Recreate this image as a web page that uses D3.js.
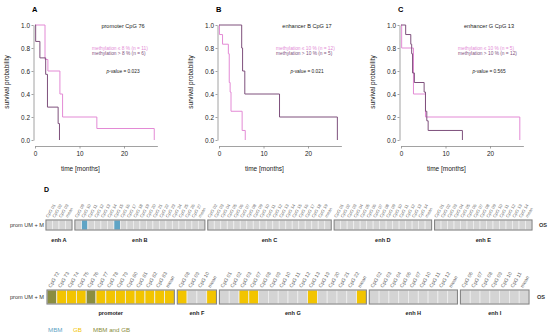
<!DOCTYPE html>
<html>
<head>
<meta charset="utf-8">
<script src="https://cdn.jsdelivr.net/npm/d3@7"></script>
<style>
  body { margin: 0; background: #fff; }
  text { font-family: "Liberation Sans", Arial, sans-serif; }
</style>
</head>
<body>
<svg id="chart"></svg>
<script>
const W = 550, H = 336;
const pink = "#e38ad5", purple = "#7e507c";

// Kaplan-Meier panels
const panelLetters = ["A", "B", "C"];
const panelTitles = ["promoter CpG 76", "enhancer B CpG 17", "enhancer G CpG 13"];
const legendLow = ["methylation \u2264 8 % (n = 11)", "methylation \u2264 10 % (n = 12)", "methylation \u2264 10 % (n = 5)"];
const legendHigh = ["methylation > 8 % (n = 6)", "methylation > 10 % (n = 5)", "methylation > 10 % (n = 12)"];
const pValues = ["0.023", "0.021", "0.565"];
const timeTicks = [0, 10, 20];
const survTicks = [0, 0.2, 0.4, 0.6, 0.8, 1.0];

// [time in months, survival after the step]
const kmLowA = [[0, 1], [2.25, 0.7], [2.9, 0.6], [5.6, 0.4], [6.2, 0.2], [13.9, 0.1], [26.8, 0]];
const kmHighA = [[0, 1], [0.15, 0.857], [1.1, 0.714], [2.4, 0.571], [2.8, 0.286], [5.2, 0.143], [5.5, 0]];
const kmLowB = [[0, 1], [0.1, 0.917], [0.8, 0.833], [2.1, 0.75], [2.3, 0.5], [2.5, 0.417], [2.7, 0.25], [5.2, 0.083], [5.9, 0]];
const kmHighB = [[0, 1], [5.1, 0.8], [5.3, 0.6], [5.8, 0.4], [13.6, 0.2], [26.6, 0]];
const kmLowC = [[0, 1], [0.15, 0.8], [2.8, 0.4], [5.5, 0.2], [26.7, 0]];
const kmHighC = [[0, 1], [1.05, 0.917], [2.2, 0.833], [2.4, 0.75], [2.6, 0.583], [3.0, 0.5], [5.2, 0.417], [5.5, 0.25], [5.8, 0.167], [6.1, 0.083], [13.8, 0]];
const kmLow = [kmLowA, kmLowB, kmLowC];
const kmHigh = [kmHighA, kmHighB, kmHighC];

// Heatmap D
const statusNames = ["MBM", "GB", "MBM and GB"];
const statusColors = ["#d4d4d4", "#5fa4c5", "#f2c400", "#8a8d40"];

const row1Groups = ["enh A", "enh B", "enh C", "enh D", "enh E"];
const row1Labels = [
  ["CpG 01", "CpG 02", "CpG 03", "mean"],
  ["CpG 09", "CpG 10", "CpG 11", "CpG 12", "CpG 13", "CpG 14", "CpG 15", "CpG 16", "CpG 17", "CpG 18", "CpG 19", "CpG 20", "CpG 21", "CpG 22", "CpG 23", "CpG 24", "CpG 25", "CpG 26", "CpG 27", "mean"],
  ["CpG 02", "CpG 03", "CpG 04", "CpG 05", "CpG 06", "CpG 07", "CpG 08", "CpG 09", "CpG 10", "CpG 11", "CpG 12", "CpG 13", "CpG 14", "CpG 15", "CpG 16", "CpG 17", "CpG 18", "CpG 19", "mean"],
  ["CpG 01", "CpG 02", "CpG 03", "CpG 04", "CpG 05", "CpG 06", "CpG 07", "CpG 08", "CpG 09", "CpG 10", "CpG 11", "CpG 12", "CpG 13", "CpG 14", "mean"],
  ["CpG 01", "CpG 02", "CpG 03", "CpG 04", "CpG 05", "CpG 06", "CpG 07", "CpG 08", "CpG 09", "CpG 10", "CpG 11", "CpG 12", "CpG 13", "CpG 14", "mean"]
];
// 0 = none, 1 = MBM, 2 = GB, 3 = MBM and GB
const row1Status = [
  [0, 0, 0, 0],
  [0, 1, 0, 0, 0, 0, 1, 0, 0, 0, 0, 0, 0, 0, 0, 0, 0, 0, 0, 0],
  [0, 0, 0, 0, 0, 0, 0, 0, 0, 0, 0, 0, 0, 0, 0, 0, 0, 0, 0],
  [0, 0, 0, 0, 0, 0, 0, 0, 0, 0, 0, 0, 0, 0, 0],
  [0, 0, 0, 0, 0, 0, 0, 0, 0, 0, 0, 0, 0, 0, 0]
];

const row2Groups = ["promoter", "enh F", "enh G", "enh H", "enh I"];
const row2Labels = [
  ["CpG 72", "CpG 73", "CpG 74", "CpG 75", "CpG 76", "CpG 77", "CpG 78", "CpG 79", "CpG 80", "CpG 81", "CpG 82", "CpG 83", "mean"],
  ["CpG 08", "CpG 09", "CpG 10", "mean"],
  ["CpG 01", "CpG 02", "CpG 03", "CpG 07", "CpG 08", "CpG 09", "CpG 10", "CpG 11", "CpG 12", "CpG 13", "CpG 19", "CpG 20", "CpG 21", "CpG 22", "mean"],
  ["CpG 02", "CpG 03", "CpG 04", "CpG 06", "CpG 07", "CpG 10", "CpG 11", "CpG 12", "mean"],
  ["CpG 06", "CpG 07", "CpG 08", "CpG 09", "CpG 10", "CpG 11", "mean"]
];
const row2Status = [
  [3, 2, 2, 2, 3, 2, 2, 2, 2, 2, 2, 2, 2],
  [2, 0, 0, 2],
  [0, 0, 2, 2, 0, 0, 0, 0, 0, 2, 0, 0, 0, 0, 2],
  [0, 0, 0, 0, 0, 0, 0, 0, 0],
  [0, 0, 0, 0, 0, 0, 0]
];

const svg = d3.select("#chart").attr("width", W).attr("height", H);
svg.append("rect").attr("width", W).attr("height", H).attr("fill", "#fff");

// ---- survival panels ----
const panelX0 = [35, 219, 401];
const monthPx = 4.45;

panelLetters.forEach((letter, i) => {
  const x0 = panelX0[i];
  const g = svg.append("g");
  const x = d3.scaleLinear().domain([0, 27.5]).range([x0, x0 + 27.5 * monthPx]);
  const y = d3.scaleLinear().domain([0, 1]).range([140, 25]);

  g.append("text").attr("x", x0 - 3).attr("y", 12)
    .attr("font-size", 7.5).attr("font-weight", "bold").text(letter);

  // axes
  const xAxis = g.append("g").attr("transform", "translate(0,146)")
    .call(d3.axisBottom(x).tickValues(timeTicks).tickSize(2.5).tickSizeOuter(0).tickPadding(3));
  const yAxis = g.append("g").attr("transform", `translate(${x0 - 1.5},0)`)
    .call(d3.axisLeft(y).tickValues(survTicks).tickFormat(d3.format(".1f")).tickSize(2).tickSizeOuter(0).tickPadding(1.5));
  [xAxis, yAxis].forEach(a => {
    a.selectAll("path,line").attr("stroke", "#8a8a8a").attr("stroke-width", 0.8);
    a.selectAll("text").attr("font-size", 6.4).attr("fill", "#222")
      .style("font-family", '"Liberation Sans", Arial, sans-serif');
  });

  g.append("text").attr("transform", `translate(${x0 - 26},82) rotate(-90)`)
    .attr("text-anchor", "middle").attr("font-size", 6.5).attr("fill", "#222")
    .text("survival probability");
  g.append("text").attr("x", x(10.2)).attr("y", 170.5)
    .attr("text-anchor", "middle").attr("font-size", 6.5).attr("fill", "#222")
    .text("time [months]");

  // curves
  const line = d3.line().x(d => x(d[0])).y(d => y(d[1])).curve(d3.curveStepAfter);
  g.append("path").datum(kmLow[i]).attr("d", line)
    .attr("fill", "none").attr("stroke", pink).attr("stroke-width", 1);
  g.append("path").datum(kmHigh[i]).attr("d", line)
    .attr("fill", "none").attr("stroke", purple).attr("stroke-width", 1);

  // annotations
  g.append("text").attr("x", x0 + 88).attr("y", 27.5)
    .attr("text-anchor", "middle").attr("font-size", 5.6).attr("fill", "#222")
    .text(panelTitles[i]);
  g.append("text").attr("x", x0 + 57).attr("y", 49.7)
    .attr("font-size", 4.8).attr("fill", pink).text(legendLow[i]);
  g.append("text").attr("x", x0 + 57).attr("y", 55.3)
    .attr("font-size", 4.8).attr("fill", purple).text(legendHigh[i]);
  const pv = g.append("text").attr("x", x0 + 88).attr("y", 73)
    .attr("text-anchor", "middle").attr("font-size", 4.8).attr("fill", "#222");
  pv.append("tspan").attr("font-style", "italic").text("p");
  pv.append("tspan").text("-value = " + pValues[i]);
});

// ---- heatmap D ----
svg.append("text").attr("x", 44).attr("y", 191.5)
  .attr("font-size", 7).attr("font-weight", "bold").text("D");

function drawRow(groups, labels, status, o) {
  const cells = [];
  const spans = [];
  let pos = 0;
  groups.forEach((name, gi) => {
    spans.push({ name, start: pos, end: pos + labels[gi].length });
    labels[gi].forEach((lab, ci) => {
      cells.push({ pos: pos + ci, label: lab, status: status[gi][ci] });
    });
    pos += labels[gi].length + o.gap;
  });
  const total = pos - o.gap;
  const x = d3.scaleLinear().domain([0, total]).range([o.x0, o.x1]);
  const g = svg.append("g");

  g.selectAll("rect.cell").data(cells).enter().append("rect")
    .attr("class", "cell")
    .attr("x", d => x(d.pos))
    .attr("y", o.top)
    .attr("width", d => x(d.pos + 1) - x(d.pos))
    .attr("height", o.h)
    .attr("fill", d => statusColors[d.status])
    .attr("stroke", "#efefef").attr("stroke-width", 0.8);

  g.selectAll("rect.box").data(spans).enter().append("rect")
    .attr("class", "box")
    .attr("x", d => x(d.start))
    .attr("y", o.top)
    .attr("width", d => x(d.end) - x(d.start))
    .attr("height", o.h)
    .attr("fill", "none").attr("stroke", "#858585").attr("stroke-width", 1.1);

  g.selectAll("text.cpg").data(cells).enter().append("text")
    .attr("class", "cpg")
    .attr("transform", d => `translate(${x(d.pos + 0.5) - 1},${o.top - 2}) rotate(-60)`)
    .attr("font-size", o.fs).attr("fill", "#6a6a6a")
    .text(d => d.label);

  g.selectAll("text.grp").data(spans).enter().append("text")
    .attr("class", "grp")
    .attr("x", d => x((d.start + d.end) / 2))
    .attr("y", o.labelY)
    .attr("text-anchor", "middle").attr("font-size", 5.6).attr("font-weight", "bold").attr("fill", "#222")
    .text(d => d.name);

  g.append("text").attr("x", 44).attr("y", o.top + o.h / 2 + 2)
    .attr("text-anchor", "end").attr("font-size", 5.6).attr("fill", "#333").text("prom UM + M");
  g.append("text").attr("x", o.osX).attr("y", o.top + o.h / 2 + 2)
    .attr("font-size", 5.6).attr("font-weight", "bold").attr("fill", "#333").text("OS");
}

drawRow(row1Groups, row1Labels, row1Status,
  { x0: 46, x1: 532, top: 220, h: 10, gap: 0.45, fs: 4.3, labelY: 242, osX: 539 });
drawRow(row2Groups, row2Labels, row2Status,
  { x0: 47, x1: 529, top: 290, h: 14, gap: 0.3, fs: 5, labelY: 315, osX: 537 });

// legend
const legX = [48, 73, 93];
statusNames.forEach((name, i) => {
  svg.append("text").attr("x", legX[i]).attr("y", 332)
    .attr("font-size", 6.2).attr("fill", statusColors[i + 1]).text(name);
});
</script>
</body>
</html>
